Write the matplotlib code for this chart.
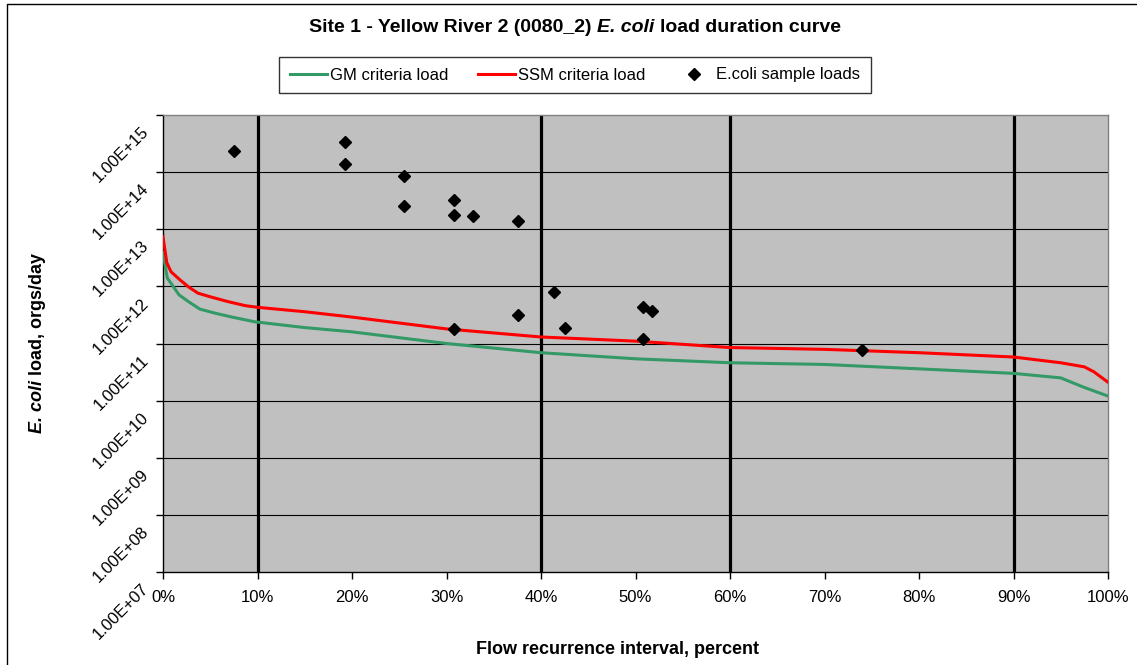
import matplotlib
matplotlib.use("Agg")
import matplotlib.pyplot as plt
from matplotlib.lines import Line2D
from matplotlib.transforms import ScaledTranslation
from matplotlib.ticker import FixedLocator, FuncFormatter, NullLocator

# Flow duration (percent of time flow is exceeded) and criteria loads, orgs/day
ssm_pct = [0, 0.4, 0.85, 1.8, 2.7, 3.7, 5.1, 6.9, 8.7, 10, 15, 20, 30, 40, 50,
           60, 70, 80, 90, 95, 97.5, 98.5, 100]
ssm_load = [7.4e12, 2.6e12, 1.8e12, 1.3e12, 9.8e11, 7.6e11, 6.5e11, 5.4e11,
            4.6e11, 4.3e11, 3.6e11, 2.9e11, 1.8e11, 1.3e11, 1.1e11, 8.5e10,
            7.9e10, 6.9e10, 5.8e10, 4.6e10, 3.9e10, 3.2e10, 2.1e10]

gm_pct = [0, 0.45, 0.9, 1.7, 2.7, 3.9, 5.5, 7.3, 9.7, 15, 20, 30, 40, 50, 60,
          70, 80, 90, 95, 97.5, 100]
gm_load = [3.9e12, 1.4e12, 1.1e12, 7.1e11, 5.4e11, 4.0e11, 3.4e11, 2.9e11,
           2.4e11, 1.9e11, 1.6e11, 1.0e11, 6.9e10, 5.4e10, 4.6e10, 4.3e10,
           3.6e10, 3.0e10, 2.5e10, 1.7e10, 1.2e10]

# E. coli sample loads
sample_pct = [7.5, 19.3, 19.3, 25.5, 25.5, 30.8, 30.8, 32.8, 37.6, 41.4, 37.6,
              42.5, 30.8, 50.8, 51.7, 50.8, 74.0]
sample_load = [2.3e14, 3.4e14, 1.4e14, 8.5e13, 2.6e13, 3.3e13, 1.8e13, 1.7e13,
               1.4e13, 8.1e11, 3.2e11, 1.9e11, 1.8e11, 4.4e11, 3.7e11, 1.2e11,
               7.8e10]

# Flow-zone boundaries and axis ticks
zone_bounds = [10, 40, 60, 90]
x_ticks = [0, 10, 20, 30, 40, 50, 60, 70, 80, 90, 100]
y_ticks = [1e7, 1e8, 1e9, 1e10, 1e11, 1e12, 1e13, 1e14, 1e15]

W, H = 1137, 665
FONT = "Liberation Sans"
plt.rcParams["font.family"] = [FONT, "DejaVu Sans"]

fig = plt.figure(figsize=(W / 100, H / 100), dpi=100)
ax = fig.add_axes([163 / W, 1 - 572 / H, (1108 - 163) / W, (572 - 115) / H])
ax.set_facecolor("#C0C0C0")

ax.set_yscale("log")
ax.set_xlim(0, 100)
ax.set_ylim(y_ticks[0], y_ticks[-1])

for yv in y_ticks[1:-1]:
    ax.axhline(yv, color="black", lw=0.8, zorder=1)
for xv in zone_bounds:
    ax.axvline(xv, color="black", lw=2.3, zorder=1)

gm_line, = ax.plot(gm_pct, gm_load, color="#339966", lw=2.2, zorder=3,
                   label="GM criteria load")
ssm_line, = ax.plot(ssm_pct, ssm_load, color="#FF0000", lw=2.2, zorder=3,
                    label="SSM criteria load")
pts, = ax.plot(sample_pct, sample_load, ls="none", marker="D", ms=6.5,
               color="black", zorder=4, label="E.coli sample loads")

ax.xaxis.set_major_locator(FixedLocator(x_ticks))
ax.xaxis.set_major_formatter(FuncFormatter(lambda v, p: f"{v:.0f}%"))
ax.yaxis.set_major_locator(FixedLocator(y_ticks))
ax.yaxis.set_minor_locator(NullLocator())
ax.yaxis.set_major_formatter(FuncFormatter(lambda v, p: f"{v:.2E}"))
ax.tick_params(axis="both", direction="out", length=5, width=1,
               color="black", labelsize=12)
ax.tick_params(axis="x", pad=8)
ax.tick_params(axis="y", pad=3.5)

for side in ("top", "right"):
    ax.spines[side].set_color("#808080")
    ax.spines[side].set_linewidth(1)
for side in ("left", "bottom"):
    ax.spines[side].set_color("black")
    ax.spines[side].set_linewidth(1)

# Slanted y tick labels hang just below their tick
shift = ScaledTranslation(0, -9 / 100, fig.dpi_scale_trans)
for tick in ax.yaxis.get_major_ticks(len(y_ticks)):
    lab = tick.label1
    lab.set_rotation(45)
    lab.set_rotation_mode("default")
    lab.set_ha("right")
    lab.set_va("top")
    lab.set_transform(lab.get_transform() + shift)

# Outer chart frame
fig.add_artist(Line2D([7 / W, 7 / W, 1.01], [-0.01, 1 - 4 / H, 1 - 4 / H],
                      transform=fig.transFigure, color="black", lw=1))

renderer = fig.canvas.get_renderer()


def text_width(s, size, weight, style):
    t = fig.text(0, 0, s, fontsize=size, fontweight=weight, fontstyle=style)
    w = t.get_window_extent(renderer).width
    t.remove()
    return w


def mixed_text(cx, cy, parts, size, vertical=False):
    """Draw bold text whose pieces switch between normal and italic."""
    space = (text_width("x x", size, "bold", "normal")
             - text_width("xx", size, "bold", "normal"))
    widths = [text_width(s, size, "bold", st) for s, st in parts]
    total = sum(widths) + space * (len(parts) - 1)
    pos = -total / 2
    for (s, st), w in zip(parts, widths):
        if vertical:
            fig.text(cx / W, 1 - (cy - pos) / H, s, fontsize=size,
                     fontweight="bold", fontstyle=st, rotation=90,
                     rotation_mode="anchor", ha="left", va="center")
        else:
            fig.text((cx + pos) / W, 1 - cy / H, s, fontsize=size,
                     fontweight="bold", fontstyle=st, ha="left", va="center")
        pos += w + space


mixed_text(575, 28, [("Site 1 - Yellow River 2 (0080_2)", "normal"),
                     ("E. coli", "italic"),
                     ("load duration curve", "normal")], 14)
mixed_text(38, 343, [("E. coli", "italic"), ("load, orgs/day", "normal")],
           13, vertical=True)
fig.text(617 / W, 1 - 650 / H, "Flow recurrence interval, percent",
         fontsize=13, fontweight="bold", ha="center", va="center")

leg = fig.legend(handles=[gm_line, ssm_line, pts], ncol=3, loc="center",
                 bbox_to_anchor=(575 / W, 1 - 75 / H), fontsize=12,
                 frameon=True, fancybox=False, edgecolor="black",
                 handlelength=2.2, handletextpad=0.2, columnspacing=1.8,
                 borderpad=0.65)
leg.get_frame().set_linewidth(1)

fig.savefig("out.png", dpi=100)
